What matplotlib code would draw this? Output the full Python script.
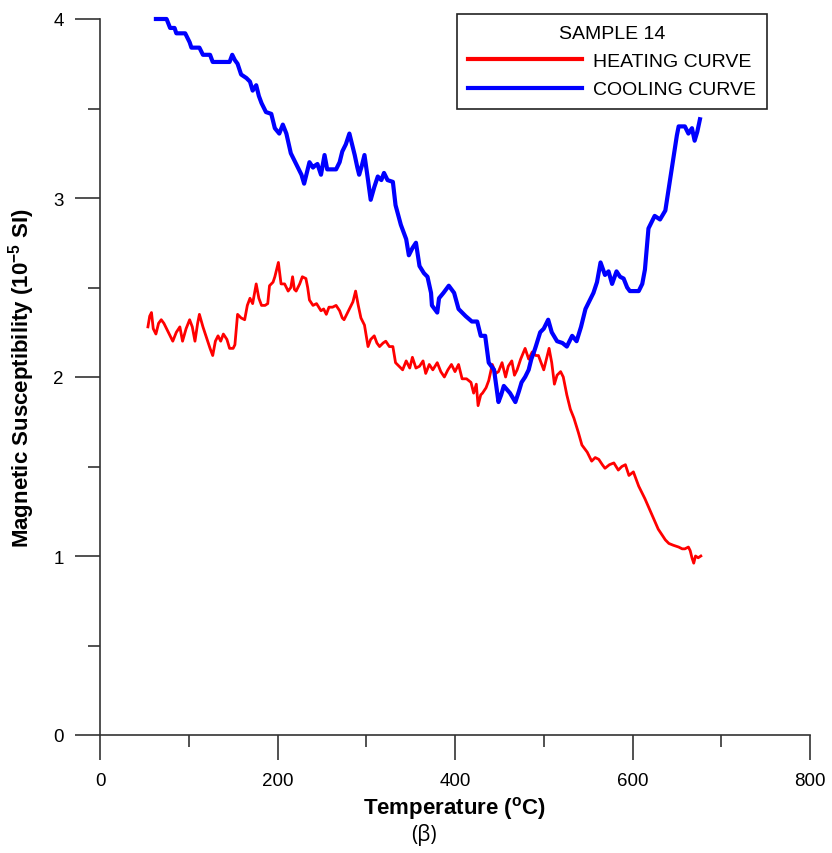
import matplotlib
matplotlib.use("Agg")
import matplotlib.pyplot as plt
from matplotlib.lines import Line2D

plt.rcParams['font.family'] = ['Liberation Sans', 'DejaVu Sans']
plt.rcParams['mathtext.fontset'] = 'custom'
plt.rcParams['mathtext.rm'] = 'Liberation Sans'
plt.rcParams['mathtext.bf'] = 'Liberation Sans:bold'

# heating run: temperature (C) and susceptibility (1e-5 SI)
heat_t = [54, 56, 58, 60, 63, 66, 69, 72, 76, 79, 82, 86, 90, 93, 97, 101, 104, 107, 110, 112,
          116, 120, 124, 127, 130, 133, 136, 139, 143, 146, 150, 152, 155, 159, 163, 166, 169, 172, 176, 179,
          182, 186, 189, 191, 195, 197, 201, 204, 208, 212, 215, 217, 219, 221, 225, 228, 232, 234, 236, 240,
          244, 249, 252, 255, 258, 262, 266, 270, 273, 275, 278, 281, 285, 288, 291, 294, 298, 302, 305, 309,
          312, 315, 319, 322, 326, 330, 333, 337, 341, 345, 349, 352, 356, 360, 364, 367, 371, 375, 380, 384,
          388, 392, 396, 400, 404, 408, 413, 418, 421, 424, 426, 429, 431, 435, 438, 442, 446, 449, 453, 457,
          460, 464, 467, 470, 474, 479, 483, 487, 491, 494, 497, 500, 503, 506, 509, 512, 515, 519, 522, 526,
          530, 534, 539, 543, 546, 549, 554, 558, 562, 566, 569, 574, 579, 584, 588, 592, 596, 601, 604, 607,
          614, 621, 629, 637, 641, 646, 652, 656, 659, 663, 665, 667, 669, 671, 674, 677]
heat_k = [2.28, 2.34, 2.36, 2.27, 2.24, 2.30, 2.32, 2.30, 2.26, 2.23, 2.20, 2.25, 2.28, 2.20, 2.27, 2.32, 2.28, 2.20, 2.30, 2.35,
          2.28, 2.22, 2.16, 2.12, 2.20, 2.23, 2.20, 2.24, 2.21, 2.16, 2.16, 2.18, 2.35, 2.33, 2.32, 2.40, 2.44, 2.41, 2.52, 2.44,
          2.40, 2.40, 2.41, 2.51, 2.53, 2.56, 2.64, 2.52, 2.52, 2.48, 2.50, 2.56, 2.49, 2.48, 2.52, 2.56, 2.55, 2.50, 2.43, 2.40,
          2.41, 2.37, 2.38, 2.35, 2.39, 2.39, 2.40, 2.37, 2.33, 2.32, 2.35, 2.38, 2.42, 2.48, 2.40, 2.33, 2.29, 2.17, 2.21, 2.23,
          2.19, 2.17, 2.19, 2.20, 2.17, 2.17, 2.08, 2.06, 2.04, 2.09, 2.05, 2.11, 2.05, 2.06, 2.09, 2.02, 2.07, 2.04, 2.08, 2.03,
          2.00, 2.04, 2.07, 2.03, 2.07, 1.99, 1.99, 1.97, 1.91, 1.96, 1.84, 1.90, 1.91, 1.94, 1.98, 2.07, 2.02, 2.03, 2.08, 2.00,
          2.06, 2.09, 2.01, 2.04, 2.10, 2.16, 2.10, 2.14, 2.12, 2.12, 2.08, 2.04, 2.10, 2.16, 2.08, 1.96, 2.01, 2.03, 2.00, 1.90,
          1.82, 1.77, 1.69, 1.62, 1.60, 1.58, 1.53, 1.55, 1.54, 1.51, 1.49, 1.51, 1.52, 1.48, 1.50, 1.51, 1.45, 1.47, 1.43, 1.39,
          1.32, 1.24, 1.15, 1.09, 1.07, 1.06, 1.05, 1.04, 1.04, 1.05, 1.03, 0.99, 0.96, 1.00, 0.99, 1.00]

# cooling run
cool_t = [63, 75, 79, 84, 86, 96, 101, 103, 112, 116, 124, 127, 146, 149, 152, 155, 159, 165, 169, 172,
          176, 179, 182, 187, 193, 197, 202, 206, 210, 215, 221, 227, 230, 233, 236, 240, 242, 245, 249, 253,
          256, 262, 266, 270, 273, 277, 281, 284, 287, 290, 292, 295, 298, 302, 305, 309, 313, 317, 320, 324,
          330, 333, 339, 345, 348, 352, 356, 360, 365, 369, 373, 374, 380, 382, 387, 393, 399, 404, 408, 412,
          419, 425, 429, 434, 438, 441, 444, 449, 452, 455, 462, 468, 472, 475, 479, 483, 486, 489, 491, 496,
          500, 505, 509, 515, 521, 526, 532, 537, 542, 547, 552, 556, 560, 564, 569, 573, 577, 582, 586, 590,
          594, 597, 607, 611, 614, 618, 625, 631, 637, 642, 646, 650, 652, 659, 663, 667, 670, 673, 676]
cool_k = [4.00, 4.00, 3.95, 3.95, 3.92, 3.92, 3.87, 3.84, 3.84, 3.80, 3.80, 3.76, 3.76, 3.80, 3.77, 3.75, 3.69, 3.67, 3.65, 3.60,
          3.63, 3.57, 3.53, 3.48, 3.47, 3.39, 3.36, 3.41, 3.36, 3.25, 3.19, 3.13, 3.08, 3.14, 3.20, 3.17, 3.18, 3.19, 3.13, 3.24,
          3.16, 3.16, 3.16, 3.20, 3.26, 3.30, 3.36, 3.30, 3.24, 3.17, 3.13, 3.18, 3.24, 3.10, 2.99, 3.06, 3.12, 3.10, 3.14, 3.10,
          3.09, 2.96, 2.85, 2.77, 2.68, 2.72, 2.75, 2.62, 2.58, 2.56, 2.47, 2.40, 2.36, 2.44, 2.47, 2.51, 2.47, 2.38, 2.36, 2.34,
          2.31, 2.31, 2.23, 2.23, 2.08, 2.06, 2.04, 1.86, 1.90, 1.95, 1.91, 1.86, 1.92, 1.97, 2.00, 2.04, 2.10, 2.14, 2.17, 2.25,
          2.27, 2.32, 2.25, 2.20, 2.19, 2.17, 2.23, 2.20, 2.28, 2.38, 2.43, 2.47, 2.53, 2.64, 2.57, 2.59, 2.52, 2.59, 2.56, 2.55,
          2.50, 2.48, 2.48, 2.52, 2.60, 2.83, 2.90, 2.88, 2.93, 3.09, 3.22, 3.35, 3.40, 3.40, 3.36, 3.39, 3.32, 3.37, 3.44]

x_major = [0, 200, 400, 600, 800]
x_minor = [100, 300, 500, 700]
y_major = [0, 1, 2, 3, 4]
y_minor = [0.5, 1.5, 2.5, 3.5]

fig = plt.figure(figsize=(8.32, 8.54), dpi=100)
ax = fig.add_axes([100 / 832, 118 / 854, 710 / 832, 716 / 854])

ax.plot(heat_t, heat_k, '-', color='#ff0000', lw=2.0, clip_on=False, zorder=3)
ax.plot(cool_t, cool_k, '-', color='#0000ff', lw=3.0, clip_on=False, zorder=4)

ax.set_xlim(0, 800)
ax.set_ylim(0, 4)
for side in ['top', 'right']:
    ax.spines[side].set_visible(False)
for side in ['left', 'bottom']:
    ax.spines[side].set_color('#333333')
    ax.spines[side].set_linewidth(1.2)

ax.set_xticks(x_major)
ax.set_xticks(x_minor, minor=True)
ax.set_yticks(y_major)
ax.set_yticks(y_minor, minor=True)
ax.tick_params(axis='x', which='major', direction='out', length=18, width=1.2,
               color='#333333', labelsize=13.5, pad=9)
ax.tick_params(axis='y', which='major', direction='out', length=18, width=1.2,
               color='#333333', labelsize=13.5, pad=8)
ax.tick_params(which='minor', direction='out', length=8.5, width=1.2, color='#333333')

ax.set_xlabel(r"Temperature ($^{\mathbf{o}}$C)", fontsize=16, fontweight='bold', labelpad=3)
ax.set_ylabel(r"Magnetic Susceptibility (10$^{\mathbf{-5}}$ SI)", fontsize=16,
              fontweight='bold', labelpad=12)

handles = [Line2D([], [], color='#ff0000', lw=3),
           Line2D([], [], color='#0000ff', lw=3)]
leg = ax.legend(handles, ["HEATING CURVE", "COOLING CURVE"], title="SAMPLE 14",
                loc='upper left', bbox_to_anchor=(457 / 832, 1 - 15 / 854),
                bbox_transform=fig.transFigure, fontsize=14, title_fontsize=14,
                frameon=True, fancybox=False, framealpha=1, edgecolor='#222222',
                handlelength=5.9, handletextpad=0.55, labelspacing=0.55,
                borderpad=0.55, borderaxespad=0)
leg.get_frame().set_linewidth(1.2)

fig.text(424 / 832, 1 - 835 / 854, "(β)", fontsize=15, family=['Open Sans', 'DejaVu Sans'],
         ha='center', va='center')

fig.savefig("out.png", dpi=100)
plt.close(fig)
